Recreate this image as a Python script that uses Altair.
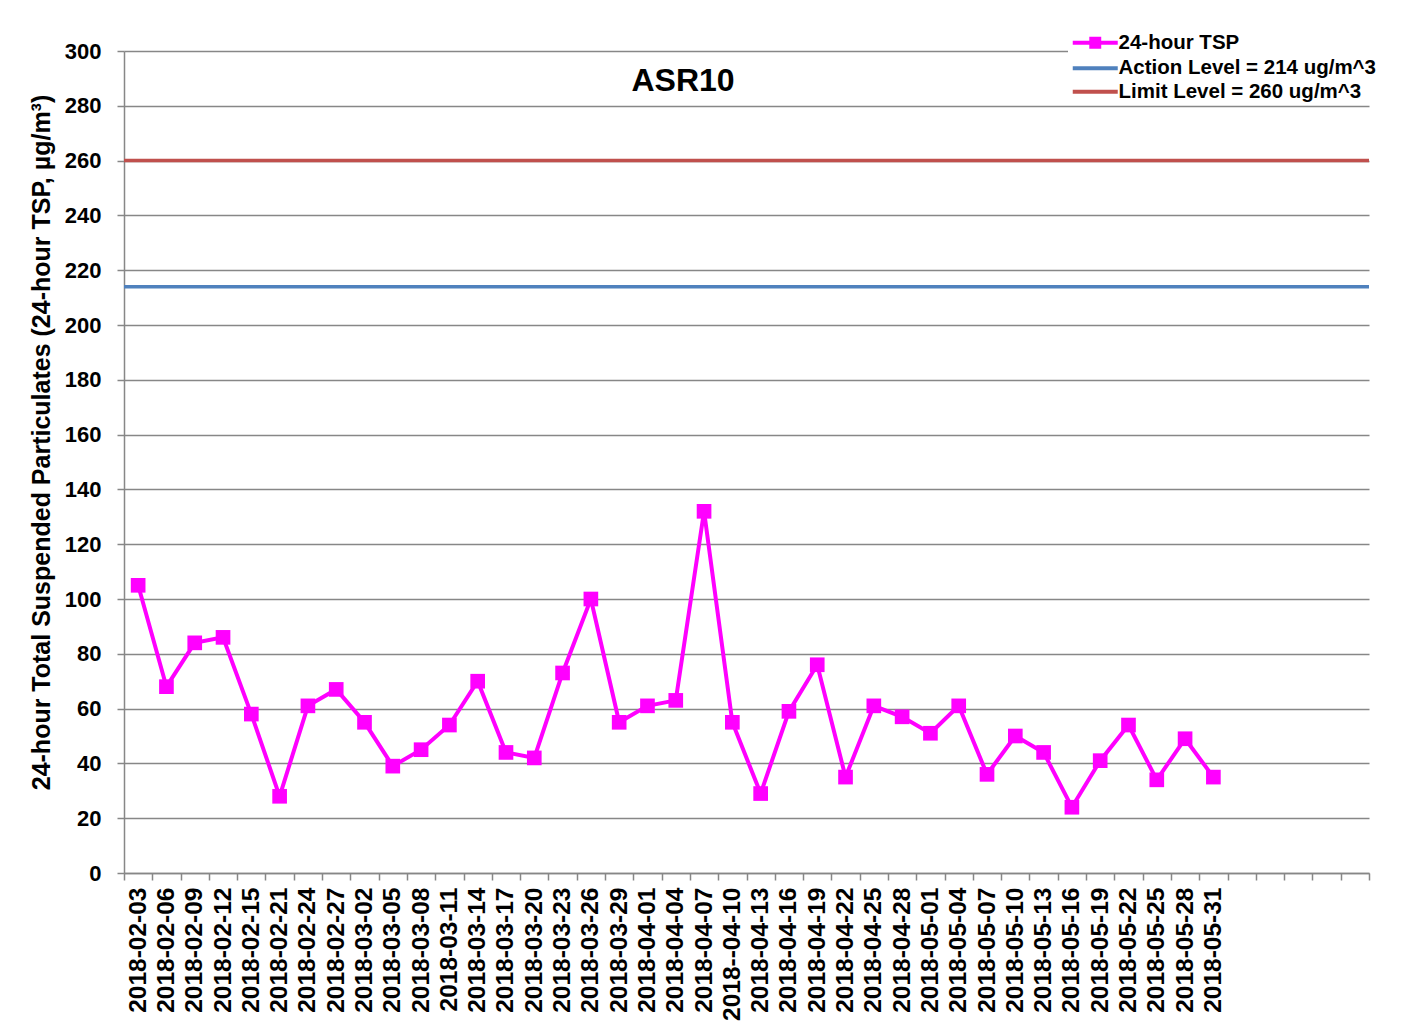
import json
import altair as alt
import pandas as pd

# ---------------- data ----------------
dates = [
    "2018-02-03", "2018-02-06", "2018-02-09", "2018-02-12", "2018-02-15",
    "2018-02-21", "2018-02-24", "2018-02-27", "2018-03-02", "2018-03-05",
    "2018-03-08", "2018-03-11", "2018-03-14", "2018-03-17", "2018-03-20",
    "2018-03-23", "2018-03-26", "2018-03-29", "2018-04-01", "2018-04-04",
    "2018-04-07", "2018--04-10", "2018-04-13", "2018-04-16", "2018-04-19",
    "2018-04-22", "2018-04-25", "2018-04-28", "2018-05-01", "2018-05-04",
    "2018-05-07", "2018-05-10", "2018-05-13", "2018-05-16", "2018-05-19",
    "2018-05-22", "2018-05-25", "2018-05-28", "2018-05-31",
]
tsp = [
    105, 68, 84, 86, 58, 28, 61, 67, 55, 39,
    45, 54, 70, 44, 42, 73, 100, 55, 61, 63,
    132, 55, 29, 59, 76, 35, 61, 57, 51, 61,
    36, 50, 44, 24, 41, 54, 34, 49, 35,
]
n_slots = 44  # category slots on the x axis (last ones empty)
tsp_name = "24-hour TSP"
level_names = ["Action Level = 214 ug/m^3", "Limit Level = 260 ug/m^3"]
level_values = [214, 260]
series_names = [tsp_name] + level_names
series_colors = ["#FF00FF", "#4F81BD", "#C0504D"]
y_ticks = list(range(0, 301, 20))

df = pd.DataFrame({
    "idx": [i + 0.5 for i in range(len(dates))],
    "date": dates,
    "value": tsp,
    "series": tsp_name,
})
lv = pd.DataFrame({"value": level_values, "series": level_names})

# ---------------- styling ----------------
W, H = 1245, 822
FONT = "Liberation Sans"
GRAY = "#878787"

label_expr = (
    f"(datum.value % 1 == 0.5 && floor(datum.value) < {len(dates)}) ? "
    f"{json.dumps(dates)}[floor(datum.value)] : ''"
)
x_values = [k / 2 for k in range(0, 2 * n_slots + 1)]

x_axis = alt.Axis(
    values=x_values, labelExpr=label_expr, labelAngle=270,
    labelOverlap=False, labelFlush=False, labelBound=False,
    labelFont=FONT, labelFontSize=24.5, labelFontWeight="bold", labelColor="black",
    labelPadding=7, grid=False, tickSize=7, tickColor=GRAY, tickWidth=1.5,
    tickOpacity={"condition": {"test": "datum.value % 1 == 0", "value": 1}, "value": 0},
    domainColor=GRAY, domainWidth=1.5, title=None,
)
y_axis = alt.Axis(
    values=y_ticks, grid=True, gridColor=GRAY, gridWidth=1.5,
    domainColor=GRAY, domainWidth=1.5, tickColor=GRAY, tickWidth=1.5, tickSize=7,
    labelFont=FONT, labelFontSize=22, labelFontWeight="bold", labelColor="black",
    labelPadding=16,
    title="24-hour Total Suspended Particulates (24-hour TSP, µg/m³)",
    titleFont=FONT, titleFontSize=25, titleFontWeight="bold", titleColor="black",
    titleAngle=270, titleX=-83, titleY=391, titleAlign="center", titleBaseline="middle",
)

x_enc = alt.X("idx:Q", scale=alt.Scale(domain=[0, n_slots], nice=False, zero=False), axis=x_axis)
y_enc = alt.Y("value:Q", scale=alt.Scale(domain=[0, 300], nice=False), axis=y_axis)

shape_expr = (
    f"datum.value == '{tsp_name}' ? "
    "'M-1,0H5M1.47,-0.53H2.53V0.53H1.47Z' : 'M-1,0H5'"
)
color_map_expr = (
    f"datum.value == '{series_names[0]}' ? '{series_colors[0]}' : "
    f"datum.value == '{series_names[1]}' ? '{series_colors[1]}' : '{series_colors[2]}'"
)
fill_expr = f"datum.value == '{tsp_name}' ? '{series_colors[0]}' : 'transparent'"

legend = alt.Legend(
    orient="none", legendX=944, legendY=-20.5, title=None,
    fillColor="white", padding=2, rowPadding=2.5,
    symbolType=alt.ExprRef(expr=shape_expr), symbolSize=225, symbolStrokeWidth=4,
    symbolFillColor=alt.ExprRef(expr=fill_expr),
    symbolStrokeColor=alt.ExprRef(expr=color_map_expr),
    labelFont=FONT, labelFontSize=20.5, labelFontWeight="bold", labelColor="black",
    labelOffset=28, labelLimit=400,
)
color_enc = alt.Color(
    "series:N",
    scale=alt.Scale(domain=series_names, range=series_colors),
    legend=legend,
)

levels = alt.Chart(lv).mark_rule(strokeWidth=3.5).encode(y=y_enc, color=color_enc)
line = alt.Chart(df).mark_line(strokeWidth=4).encode(x=x_enc, y=y_enc, color=color_enc)
points = alt.Chart(df).mark_point(shape="square", filled=True, size=215, opacity=1).encode(
    x=x_enc, y=y_enc, color=color_enc
)

chart = alt.layer(levels, line, points).properties(
    width=W, height=H,
    title=alt.TitleParams(
        "ASR10", font=FONT, fontSize=32, fontWeight="bold", color="black",
        anchor="middle", dx=-63.5, offset=-92.5, baseline="alphabetic",
    ),
    autosize="none",
    padding={"left": 116, "top": 43, "right": 27, "bottom": 151},
).configure(background="white").configure_view(stroke=None)

chart.save("out.html", embed_options={"renderer": "svg", "actions": False})
